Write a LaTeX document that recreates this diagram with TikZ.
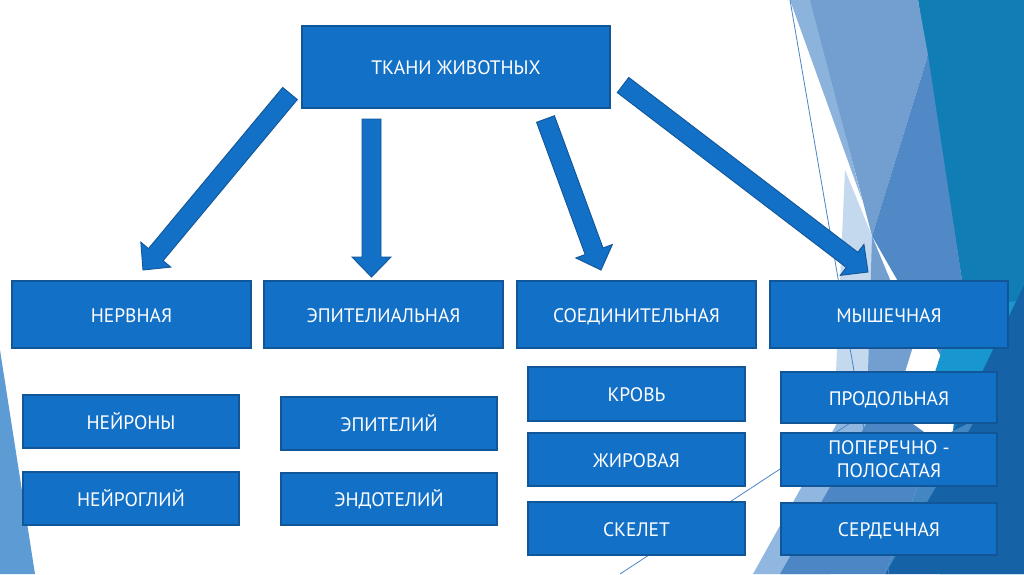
\documentclass[tikz,border=0pt]{standalone}
\usepackage{fontspec}
\setmainfont{PT Sans}
\usetikzlibrary{calc}
\definecolor{boxfill}{RGB}{19,112,199}
\definecolor{boxline}{RGB}{16,86,152}
\definecolor{teal}{RGB}{16,126,180}
\definecolor{medblue}{RGB}{114,159,207}
\definecolor{lightstrip}{RGB}{140,179,219}
\definecolor{darkmed}{RGB}{80,137,197}
\definecolor{vlight}{RGB}{196,217,238}
\definecolor{brightteal}{RGB}{23,150,207}
\definecolor{darkblue}{RGB}{21,99,166}
\definecolor{botlight}{RGB}{144,183,224}
\definecolor{botmed}{RGB}{76,134,196}
\definecolor{leftblue}{RGB}{93,155,213}
\definecolor{thinline}{RGB}{74,134,197}
\newcommand{\blkarrow}[2]{%
  \coordinate (hb) at ($(#2)!20pt!(#1)$);
  \filldraw[arrowbody]
    ($(#1)!9.5pt!90:(#2)$) -- ($(hb)!9.5pt!90:(#2)$) -- ($(hb)!19.5pt!90:(#2)$) --
    (#2) -- ($(hb)!19.5pt!-90:(#2)$) -- ($(hb)!9.5pt!-90:(#2)$) --
    ($(#1)!9.5pt!-90:(#2)$) -- cycle;}
\begin{document}
\begin{tikzpicture}[x=1pt,y=-1pt,
  box/.style={draw=boxline, line width=1.1pt, fill=boxfill, text=white,
    font=\fontsize{19.5}{23}\selectfont, inner sep=0pt, align=center},
  one/.style={box, text height=18pt, text depth=2.6pt},
  arrowbody/.style={fill=boxfill, draw=boxline, line width=0.9pt, line join=miter}]
\useasboundingbox (0,0) rectangle (1024,574);
\fill[white] (0,0) rectangle (1024,574);
% background facets
\fill[teal] (918,0) -- (1024,0) -- (1024,574) -- (940,574) -- (965,300) -- cycle;
\fill[lightstrip] (790,0) -- (812,0) -- (862,200) -- cycle;
\fill[medblue] (810,0) -- (918,0) -- (928,55) -- (872,236) -- cycle;
\fill[darkmed] (928,55) -- (965,300) -- (950,372) -- (872,236) -- cycle;
\fill[vlight] (845,170) -- (872,236) -- (900,372) -- (836,372) -- cycle;
\fill[medblue] (872,236) -- (915,340) -- (905,372) -- (868,372) -- cycle;
\fill[brightteal] (935,372) -- (955,310) -- (1024,300) -- (1024,330) -- (990,372) -- cycle;
\fill[darkblue] (1024,285) -- (1024,574) -- (885,574) -- cycle;
\fill[botlight] (753,574) -- (830,574) -- (880,400) -- (850,400) -- cycle;
\fill[botmed] (780,574) -- (885,574) -- (935,440) -- (880,400) -- cycle;
\fill[darkmed!80!teal] (885,574) -- (935,440) -- (975,420) -- cycle;
\fill[leftblue] (0,350) -- (35,574) -- (0,574) -- cycle;
\draw[thinline, line width=0.8pt] (790,0) -- (889,574);
\draw[thinline, line width=0.8pt] (620,574) -- (870,410);
% nodes
\node[one, minimum width=308pt, minimum height=82pt] (top) at (456,67) {ТКАНИ ЖИВОТНЫХ};
\node[one, minimum width=239pt, minimum height=67pt] (nerv) at (131.5,314.5) {НЕРВНАЯ};
\node[one, minimum width=239pt, minimum height=67pt] (epi) at (383.5,314.5) {ЭПИТЕЛИАЛЬНАЯ};
\node[one, minimum width=239pt, minimum height=67pt] (soed) at (636.5,314.5) {СОЕДИНИТЕЛЬНАЯ};
\node[one, minimum width=238pt, minimum height=67pt] (mysh) at (889,314.5) {МЫШЕЧНАЯ};
\node[one, minimum width=216pt, minimum height=53pt] (neur) at (131,421.5) {НЕЙРОНЫ};
\node[one, minimum width=216pt, minimum height=53pt] (glia) at (131,498.5) {НЕЙРОГЛИЙ};
\node[one, minimum width=216pt, minimum height=53pt] (epitel) at (389,423.5) {ЭПИТЕЛИЙ};
\node[one, minimum width=216pt, minimum height=52pt] (endo) at (389,499) {ЭНДОТЕЛИЙ};
\node[one, minimum width=217pt, minimum height=54pt] (krov) at (636.5,394) {КРОВЬ};
\node[one, minimum width=217pt, minimum height=53pt] (zhir) at (636.5,459.5) {ЖИРОВАЯ};
\node[one, minimum width=217pt, minimum height=53pt] (skel) at (636.5,528.5) {СКЕЛЕТ};
\node[one, minimum width=216pt, minimum height=51pt] (prod) at (889,397.5) {ПРОДОЛЬНАЯ};
\node[box, minimum width=216pt, minimum height=53pt] (poper) at (889,459.5) {ПОПЕРЕЧНО -\\ПОЛОСАТАЯ};
\node[one, minimum width=216pt, minimum height=52pt] (serd) at (889,529) {СЕРДЕЧНАЯ};
% block arrows
\coordinate (a1s) at (290,93.5);  \coordinate (a1e) at (143,270);
\coordinate (a2s) at (371.5,119); \coordinate (a2e) at (371.5,277);
\coordinate (a3s) at (545.5,119); \coordinate (a3e) at (601,270);
\coordinate (a4s) at (623,85);    \coordinate (a4e) at (868,272);
\blkarrow{a1s}{a1e}
\blkarrow{a2s}{a2e}
\blkarrow{a3s}{a3e}
\blkarrow{a4s}{a4e}
\end{tikzpicture}
\end{document}
